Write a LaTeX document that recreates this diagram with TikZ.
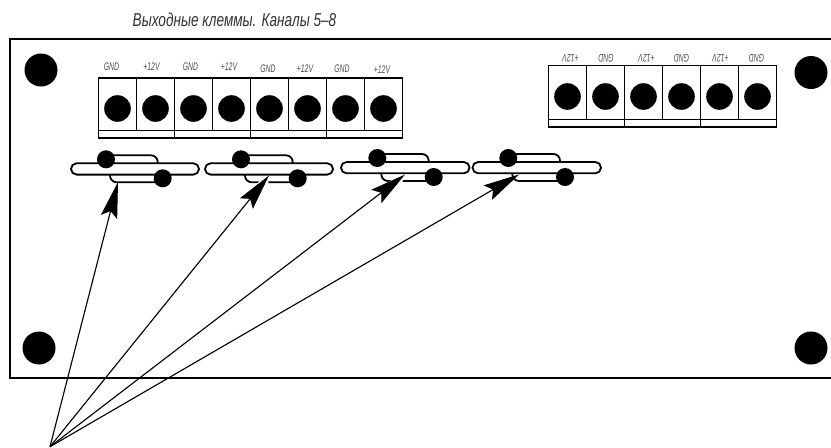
\documentclass[tikz,border=0pt]{standalone}
\usepackage{fontspec}
\setmainfont{Liberation Sans}
\usetikzlibrary{arrows.meta,calc}
\tikzset{
  panel/.style={line width=1.5pt},
  cell/.style={draw=black,line width=1.15pt},
  hole/.style={fill=black,draw=none},
  slot/.style={draw=black,line width=1.35pt,rounded corners=4.2pt,fill=white},
  wire/.style={draw=black,line width=1.35pt,rounded corners=5pt},
  pointer/.style={draw=black,line width=0.85pt,-{Stealth[length=27pt,width=12.5pt,inset=4.5pt]}},
  halo/.style={draw=white,line width=6pt},
  cad/.style={font=\itshape\fontsize{8.3}{9}\selectfont,inner sep=0pt,xscale=0.62,text=black!70},
  title/.style={font=\itshape\fontsize{14}{15}\selectfont,inner sep=0pt,xscale=0.73,text=black!80}
}
\begin{document}
\begin{tikzpicture}[x=0.75pt,y=-0.75pt]
\useasboundingbox (0,0) rectangle (831,447);
\node[title] (heading) at (234.5,20) {Выходные клеммы. Каналы 5–8};
\draw[panel] (831,39) -- (9.5,39) -- (9.5,378) -- (831,378);
\foreach \n/\x/\y in {tl/41/70,tr/811/72.5,bl/39/348,br/811/348}
  \fill[hole] (\x,\y) circle (16.5) coordinate (mount\n);
% left terminal block
\foreach \i in {0,...,7}{
  \pgfmathsetmacro{\xa}{98.5+38*\i}
  \draw[cell] (\xa,78) rectangle ++(38,52.5);
  \fill[hole] (\xa+19,108.5) circle (13.3);
}
\foreach \i in {0,...,3}{
  \pgfmathsetmacro{\xa}{98.5+76*\i}
  \draw[cell] (\xa,130.5) rectangle ++(76,7.5);
}
\foreach \t/\x/\y in {GND/111.5/66.5,+12V/151.5/66.5,GND/190.5/66.5,+12V/229/66.5,GND/268/69,+12V/305/69,GND/342/69,+12V/382/70}
  \node[cad] at (\x,\y) {\t};
% right terminal block
\foreach \i in {0,...,5}{
  \pgfmathsetmacro{\xa}{548.5+38*\i}
  \draw[cell] (\xa,65.5) rectangle ++(38,54);
  \fill[hole] (\xa+19,96.5) circle (13.3);
}
\foreach \i in {0,...,2}{
  \pgfmathsetmacro{\xa}{548.5+76*\i}
  \draw[cell] (\xa,119.5) rectangle ++(76,7.5);
}
\foreach \t/\x in {+12V/570.5,GND/606,+12V/646.5,GND/681.5,+12V/720.5,GND/756.5}
  \node[cad,rotate=180] at (\x,58) {\t};
% jumpers
\foreach \n/\xa/\xb/\ta/\tb/\ya in {1/71/199/106/162.7/163.3,2/205/333/241/297.7/163.3,3/341/469.5/377.3/433.7/162,4/472.5/601/508.3/565/162}{
  \draw[wire] (\ta,\ya-8) -- (\tb-5,\ya-8) -- (\tb-5,\ya+3);
  \draw[wire] (\ta+4,\ya+8) -- (\ta+4,\ya+19) -- (\tb,\ya+19);
  \draw[slot] (\xa,\ya) rectangle (\xb,\ya+11.3);
  \fill[hole] (\ta,\ya-4) circle (9);
  \fill[hole] (\tb,\ya+15) circle (9);
}
% arrows
\coordinate (apex) at (50,446.7);
\coordinate (t1) at (118,182);
\coordinate (t2) at (269,175.5);
\coordinate (t3) at (405,174.5);
\coordinate (t4) at (519,174.5);
\foreach \n in {2,3} \draw[halo] ($(t\n)!4pt!(apex)$) -- ($(t\n)!13pt!(apex)$);
\foreach \n in {1,...,4} \draw[pointer] (apex) -- (t\n);
\end{tikzpicture}
\end{document}
